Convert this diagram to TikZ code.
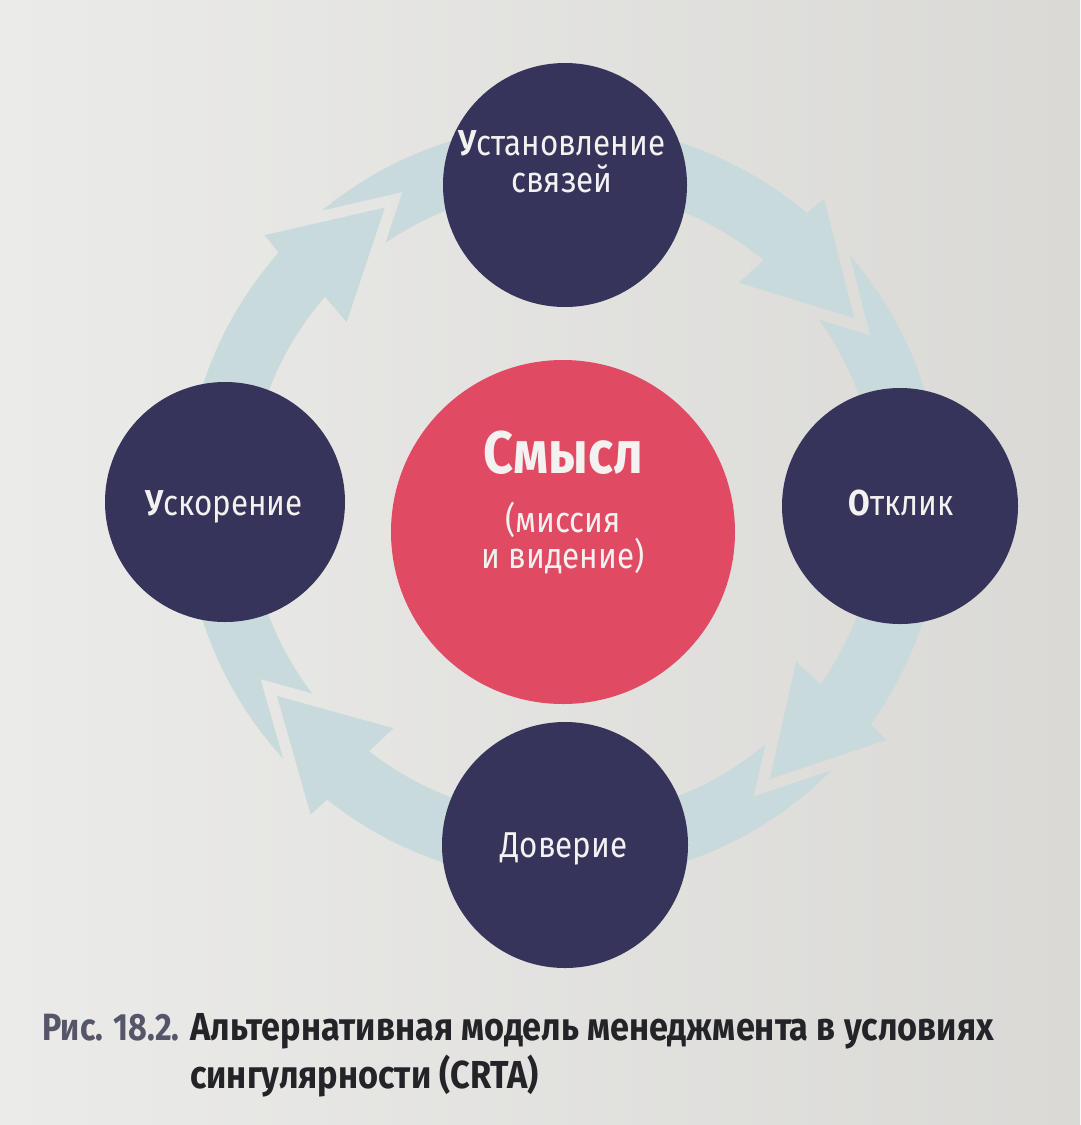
\documentclass[tikz,border=0pt]{standalone}
\usepackage{fontspec}
\setmainfont{Fira Sans}
\newfontfamily\capfont[FakeStretch=0.88]{Fira Sans}
\newfontfamily\capnumfont[FakeStretch=0.85]{Fira Sans}
\newfontfamily\lblfont[FakeStretch=0.87]{Fira Sans}
\usetikzlibrary{calc}
\definecolor{navy}{HTML}{36345B}
\definecolor{pinkc}{HTML}{E04B63}
\definecolor{ringc}{HTML}{C8DADB}
\definecolor{paperL}{HTML}{EBEBE9}
\definecolor{paperR}{HTML}{DAD9D6}
\definecolor{capgrey}{HTML}{55566A}
\definecolor{capdark}{HTML}{232328}
\definecolor{txtw}{HTML}{F4F1F1}
\newcommand\ringarrow[3]{%
  \pgfmathsetmacro\ra{#1-12}\pgfmathsetmacro\rb{#2-14}%
  \coordinate (pT#3) at (#1:345);
  \coordinate (pO#3) at ({#1-17}:401);
  \coordinate (pI#3) at ({#1-19}:282);
  \coordinate (N#3) at ({#1+3.8}:350);
  \coordinate (Ao#3) at ($(N#3)+1.4*(pO#3)-1.4*(pT#3)$);
  \coordinate (Ai#3) at ($(N#3)+1.4*(pI#3)-1.4*(pT#3)$);
  \begin{scope}
    \clip (N#3) -- (Ao#3) -- ({#1+30}:800) -- ({#1+110}:800) -- (0,0) -- (Ai#3) -- cycle;
    \fill[ringc] plot[domain=\ra:\rb, samples=60] (\x:379) -- plot[domain=\rb:\ra, samples=60] (\x:315) -- cycle;
  \end{scope}
  \fill[ringc] (#2:345) -- ({#2-17}:401) -- ({#2-17.5}:379) -- ({#2-18}:315) -- ({#2-19}:282) -- cycle;
}
\tikzset{
  navyball/.style={circle, fill=navy, inner sep=0pt},
  lbl/.style={anchor=base, text=txtw, inner sep=0pt, font=\lblfont\fontsize{36}{40}\selectfont},
  caption/.style={anchor=base west, inner sep=0pt, font=\capfont\bfseries\fontsize{39}{46}\selectfont},
}
\begin{document}
\begin{tikzpicture}[x=1pt,y=-1pt]
\useasboundingbox (0,0) rectangle (1080,1125);
\fill[left color=paperL, right color=paperR] (0,0) rectangle (1080,1125);
\begin{scope}[shift={(563,503)}]
  \ringarrow{146}{238.9}{a}
  \ringarrow{238.9}{327.6}{b}
  \ringarrow{327.6}{413.2}{c}
  \ringarrow{53.2}{146}{d}
\end{scope}
\node[navyball, minimum size=244pt] (top) at (565,185) {};
\node[navyball, minimum size=240pt] (left) at (225,502) {};
\node[navyball, minimum size=236pt] (right) at (900,506) {};
\node[navyball, minimum size=246pt] (bottom) at (565,845) {};
\node[circle, fill=pinkc, inner sep=0pt, minimum size=344pt] (center) at (563,532) {};
\node[lbl] (t1a) at (562,155) {{\bfseries У}становление};
\node[lbl] (t1b) at (562,192) {связей};
\node[lbl] (t2) at (224,515) {{\bfseries У}скорение};
\node[lbl] (t3) at (901,515) {{\bfseries О}тклик};
\node[lbl] (t4) at (564,857) {Доверие};
\node[lbl, font=\lblfont\bfseries\fontsize{60}{64}\selectfont] (c1) at (563,473) {Смысл};
\node[lbl] (c2) at (563,532) {(миссия};
\node[lbl] (c3) at (563,568) {и видение)};
\node[caption, text=capgrey, font=\capnumfont\bfseries\fontsize{38}{46}\selectfont] (cap0) at (42,1040) {Рис. 18.2.};
\node[caption, text=capdark] (cap1) at (190,1040) {Альтернативная модель менеджмента в условиях};
\node[caption, text=capdark] (cap2) at (190,1088) {сингулярности (CRTA)};
\end{tikzpicture}
\end{document}
